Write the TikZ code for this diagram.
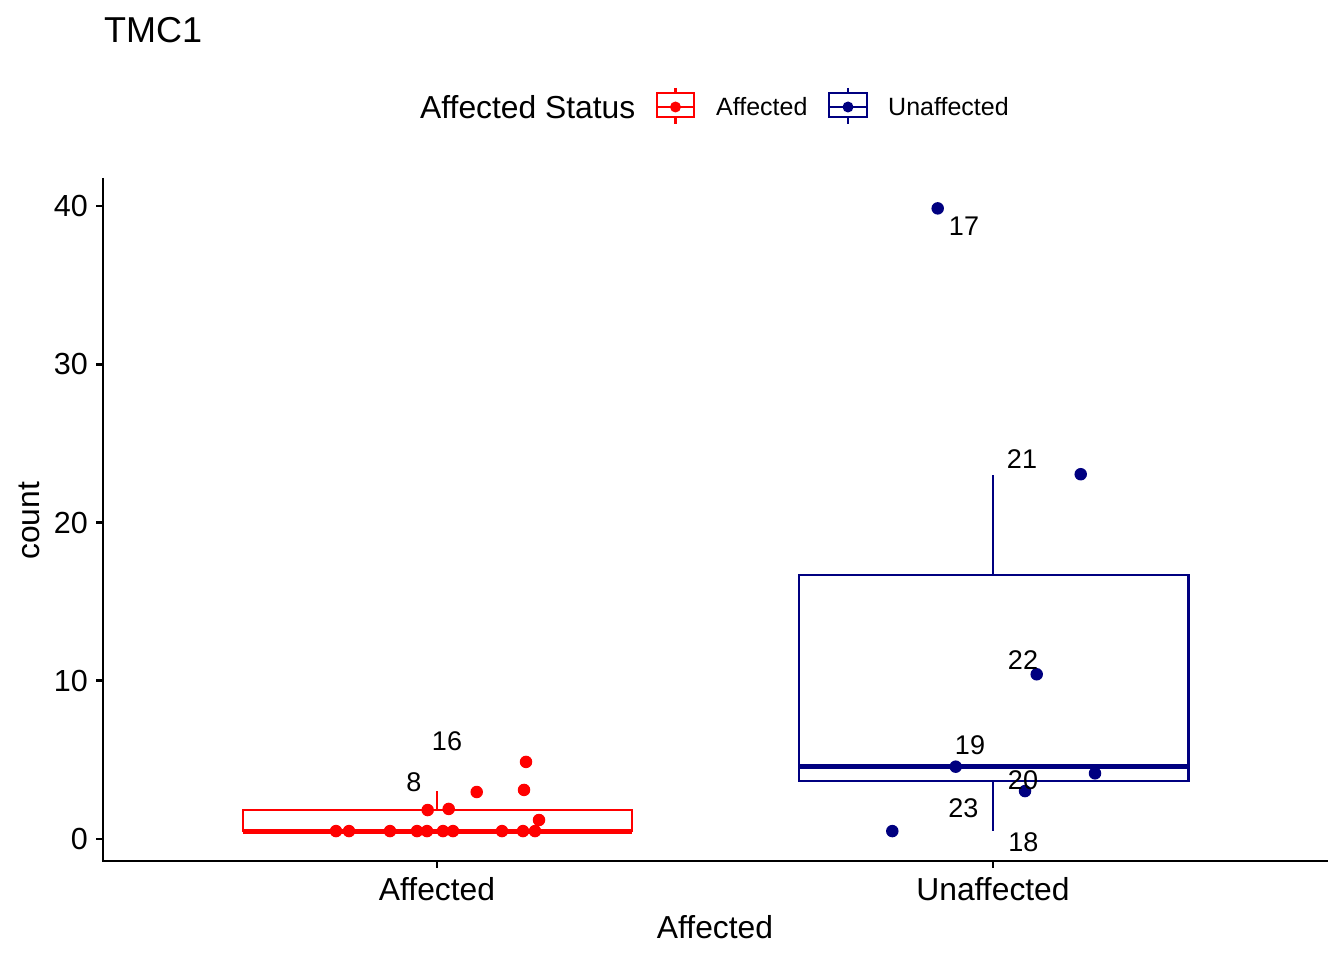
\documentclass[tikz,border=0pt]{standalone}
\usepackage{fontspec}
\setmainfont{Liberation Sans}
\usepackage{tikz}
\definecolor{affred}{HTML}{FF0000}
\definecolor{unaff}{HTML}{000080}
\tikzset{redpt/.style={circle,fill=affred,inner sep=0pt,minimum size=12.5pt},
  bluept/.style={circle,fill=unaff,inner sep=0pt,minimum size=12.5pt},
  redline/.style={draw=affred,line width=2.7pt},
  blueline/.style={draw=unaff,line width=2.7pt},
  ptlabel/.style={inner sep=0pt,font=\fontsize{27}{32}\selectfont},
  ticklabel/.style={inner sep=0pt,font=\fontsize{30.5}{36}\selectfont},
  axtitle/.style={inner sep=0pt,font=\fontsize{31.8}{38}\selectfont},
  keylabel/.style={inner sep=0pt,anchor=west,font=\fontsize{25}{30}\selectfont}}

\begin{document}
\begin{tikzpicture}[x=1pt,y=-1pt,line cap=butt,
    axis/.style={black,line width=2.9pt}]
  \useasboundingbox[fill=white] (0,0) rectangle (1344,960);
  \node[inner sep=0pt,anchor=west,font=\fontsize{36}{43}\selectfont] (title) at (104,30) {TMC1};
  % legend
  \node[axtitle,anchor=west] (legtitle) at (420,107) {Affected Status};
  \draw[affred,line width=2.2pt] (657,93) rectangle (694,117);
  \draw[affred,line width=2.2pt] (657,107) -- (694,107) (675.5,88) -- (675.5,93) (675.5,117) -- (675.5,124);
  \node[redpt,minimum size=11pt] (keyred) at (675.5,107) {};
  \node[keylabel] (legaff) at (716,107) {Affected};
  \draw[unaff,line width=2.2pt] (829,93) rectangle (867,117);
  \draw[unaff,line width=2.2pt] (829,107) -- (867,107) (848,88) -- (848,93) (848,117) -- (848,124);
  \node[bluept,minimum size=11pt] (keyblue) at (848,107) {};
  \node[keylabel] (legunaff) at (888,107) {Unaffected};
  % axes
  \coordinate (origin) at (103,861);
  \coordinate (ytop) at (103,178);
  \coordinate (xend) at (1328,861);
  \draw[axis] (ytop) -- (103,862.4) (origin) -- (xend);
  \foreach \gx/\gname in {437/Affected,993/Unaffected} {
    \draw[axis] (\gx,861) -- (\gx,868);
    \node[ticklabel,font=\fontsize{31.8}{38}\selectfont] (tick\gname) at (\gx,889) {\gname};
  }
  \node[axtitle] (xtitle) at (715,927) {Affected};
  \node[axtitle,rotate=90] (ytitle) at (29,521) {count};
  \begin{scope}[y=15.825pt,yshift=-839pt]
    \foreach \v in {0,10,20,30,40} {
      \draw[axis] (96,\v) -- (103,\v);
      \node[ticklabel,anchor=east] (ytick\v) at (88,\v) {\v};
    }
    % affected box
    \draw[redline] (243,0.5) rectangle (632,1.83);
    \draw[draw=affred,line width=5pt] (243,0.5) -- (632,0.5);
    \coordinate (redq3) at (437,1.83);
    \coordinate (redmax) at (437,3.03);
    \draw[redline] (redq3) -- (redmax);
    \foreach \px [count=\i] in {336,349,390,417,427,443,453,502,523,535}
      \node[redpt] (a\i) at (\px,0.5) {};
    \node[redpt] (a8) at (427.7,1.83) {};
    \node[redpt] (a16) at (448.7,1.9) {};
    \node[redpt] (a11) at (476.7,2.97) {};
    \node[redpt] (a12) at (524,3.1) {};
    \node[redpt] (a13) at (526,4.87) {};
    \node[redpt] (a14) at (539,1.2) {};
    \node[ptlabel] (l16) at (447,6.15) {16};
    \node[ptlabel] (l8) at (414,3.6) {8};
    % unaffected box
    \draw[blueline] (799,3.665) rectangle (1188.5,16.68);
    \draw[draw=unaff,line width=5pt] (799,4.61) -- (1188.5,4.61);
    \coordinate (blueq3) at (993,16.68);
    \coordinate (bluemax) at (993,23);
    \coordinate (blueq1) at (993,3.665);
    \coordinate (bluemin) at (993,0.52);
    \draw[blueline] (blueq3) -- (bluemax) (blueq1) -- (bluemin);
    \node[bluept] (u17) at (937.7,39.85) {};
    \node[bluept] (u21) at (1080.7,23.05) {};
    \node[bluept] (u22) at (1036.7,10.41) {};
    \node[bluept] (u19) at (955.7,4.57) {};
    \node[bluept] (u24) at (1095,4.15) {};
    \node[bluept] (u20) at (1025,3.03) {};
    \node[bluept] (u23) at (892.3,0.5) {};
    \node[ptlabel] (l17) at (964,38.7) {17};
    \node[ptlabel] (l21) at (1022,24.0) {21};
    \node[ptlabel] (l22) at (1023,11.3) {22};
    \node[ptlabel] (l19) at (970,5.93) {19};
    \node[ptlabel] (l20) at (1023,3.73) {20};
    \node[ptlabel] (l23) at (963.3,1.95) {23};
    \node[ptlabel] (l18) at (1023.3,-0.2) {18};
  \end{scope}
\end{tikzpicture}
\end{document}
